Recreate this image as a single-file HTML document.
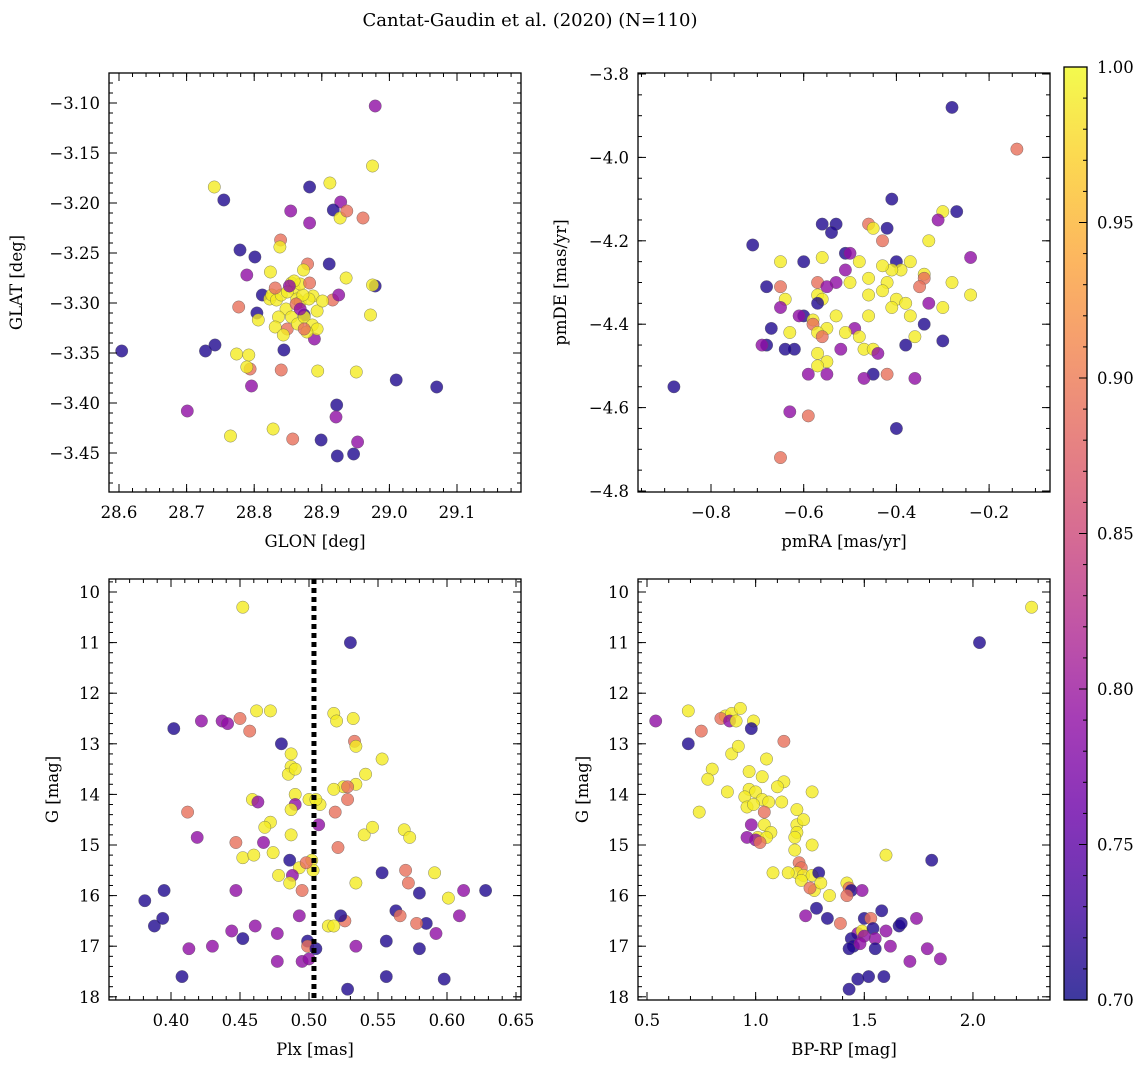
<!DOCTYPE html>
<html><head><meta charset="utf-8">
<style>
html,body{margin:0;padding:0;background:#fff;}
svg{display:block;font-family:"DejaVu Serif","Liberation Serif",serif;}
</style></head>
<body>
<svg id="fig" width="1148" height="1067" viewBox="0 0 1148 1067" xmlns="http://www.w3.org/2000/svg">
<text x="530" y="26" text-anchor="middle" font-size="18">Cantat-Gaudin et al. (2020) (N=110)</text>
</svg>
<script>
// ---------- Panel 1: GLON vs GLAT ----------
const glon = [28.979,28.741,28.755,28.912,28.975,28.882,28.928,28.917,28.854,28.927,28.882,28.937,28.961,28.779,28.801,28.789,28.839,28.838,28.911,28.879,28.873,28.824,28.936,28.979,28.975,28.777,28.916,28.925,28.728,28.742,28.604,28.774,28.792,28.794,28.789,28.804,28.806,28.812,28.823,28.796,28.844,28.840,28.701,28.765,28.828,28.857,28.899,28.922,28.921,28.951,29.010,29.070,28.923,28.947,28.953,28.894,28.972,28.874,28.849,28.889,
28.826,28.833,28.840,28.855,28.859,28.863,28.868,28.847,28.855,28.864,28.874,28.886,28.893,28.887,28.881,28.872,28.868,28.859,28.836,28.831,28.893,28.901,28.849,28.878,28.843,28.862,28.874,28.882,28.831,28.852,28.868];
const glat = [-3.103,-3.184,-3.197,-3.180,-3.163,-3.184,-3.199,-3.207,-3.208,-3.215,-3.220,-3.208,-3.215,-3.247,-3.254,-3.272,-3.237,-3.244,-3.261,-3.261,-3.267,-3.269,-3.275,-3.283,-3.282,-3.304,-3.297,-3.292,-3.348,-3.342,-3.348,-3.351,-3.352,-3.366,-3.364,-3.310,-3.317,-3.292,-3.296,-3.383,-3.347,-3.367,-3.408,-3.433,-3.426,-3.436,-3.437,-3.402,-3.414,-3.369,-3.377,-3.384,-3.453,-3.451,-3.439,-3.368,-3.312,-3.312,-3.326,-3.336,
-3.292,-3.297,-3.292,-3.280,-3.286,-3.296,-3.299,-3.306,-3.314,-3.321,-3.314,-3.322,-3.308,-3.293,-3.296,-3.292,-3.281,-3.278,-3.314,-3.324,-3.326,-3.298,-3.289,-3.329,-3.332,-3.301,-3.326,-3.280,-3.285,-3.283,-3.306];
const prob1 = [0.79,0.99,0.71,0.99,0.99,0.71,0.79,0.71,0.79,0.99,0.79,0.89,0.89,0.71,0.71,0.79,0.89,0.99,0.71,0.89,0.99,0.99,0.99,0.71,0.99,0.89,0.89,0.79,0.71,0.71,0.71,0.99,0.99,0.89,0.99,0.71,0.99,0.71,0.99,0.79,0.71,0.89,0.79,0.99,0.99,0.89,0.71,0.71,0.79,0.99,0.71,0.71,0.71,0.71,0.79,0.99,0.99,0.71,0.89,0.79,
0.99,0.99,0.99,0.99,0.99,0.99,0.99,0.99,0.99,0.99,0.99,0.99,0.99,0.99,0.99,0.99,0.99,0.99,0.99,0.99,0.99,0.99,0.99,0.99,0.99,0.89,0.89,0.89,0.89,0.79,0.79];

// ---------- Panel 2: pmRA vs pmDE ----------
const pmra = [-0.88,-0.28,-0.14,-0.41,-0.30,-0.31,-0.27,-0.71,-0.24,-0.56,-0.53,-0.54,-0.46,-0.45,-0.51,-0.50,-0.65,-0.56,-0.60,-0.48,-0.43,-0.42,-0.33,-0.40,-0.37,-0.39,-0.41,-0.51,-0.43,-0.57,-0.53,-0.46,-0.68,-0.65,-0.34,-0.34,-0.28,-0.42,-0.55,-0.64,-0.57,-0.56,-0.50,-0.46,-0.40,-0.38,-0.43,-0.24,-0.35,-0.57,-0.65,-0.30,-0.37,-0.41,-0.33,-0.60,-0.61,-0.58,-0.53,-0.46,-0.58,-0.34,-0.49,-0.55,-0.57,-0.51,-0.67,-0.48,-0.56,-0.52,-0.36,-0.63,-0.62,-0.64,-0.68,-0.69,-0.38,-0.30,-0.57,-0.47,-0.45,-0.44,-0.55,-0.57,-0.45,-0.47,-0.59,-0.55,-0.42,-0.36,-0.63,-0.40,-0.59,-0.65];
const pmde = [-4.55,-3.88,-3.98,-4.10,-4.13,-4.15,-4.13,-4.21,-4.24,-4.16,-4.16,-4.18,-4.16,-4.17,-4.23,-4.23,-4.25,-4.24,-4.25,-4.25,-4.20,-4.17,-4.20,-4.25,-4.25,-4.27,-4.27,-4.27,-4.26,-4.30,-4.30,-4.29,-4.31,-4.31,-4.28,-4.29,-4.30,-4.30,-4.31,-4.34,-4.33,-4.34,-4.30,-4.33,-4.34,-4.35,-4.32,-4.33,-4.31,-4.35,-4.36,-4.36,-4.38,-4.36,-4.35,-4.38,-4.38,-4.39,-4.38,-4.38,-4.40,-4.40,-4.41,-4.41,-4.42,-4.42,-4.41,-4.43,-4.43,-4.46,-4.43,-4.42,-4.46,-4.46,-4.45,-4.45,-4.45,-4.44,-4.47,-4.46,-4.46,-4.47,-4.49,-4.50,-4.52,-4.53,-4.52,-4.52,-4.52,-4.53,-4.61,-4.65,-4.62,-4.72];
const prob2 = [0.71,0.71,0.89,0.71,0.99,0.79,0.71,0.71,0.79,0.71,0.71,0.71,0.89,0.99,0.71,0.79,0.99,0.99,0.71,0.99,0.89,0.71,0.99,0.71,0.99,0.99,0.99,0.79,0.99,0.89,0.79,0.99,0.71,0.89,0.99,0.89,0.99,0.99,0.79,0.99,0.99,0.99,0.99,0.99,0.99,0.99,0.99,0.99,0.89,0.71,0.79,0.99,0.99,0.99,0.79,0.71,0.79,0.99,0.99,0.99,0.89,0.71,0.79,0.99,0.99,0.99,0.71,0.99,0.89,0.79,0.99,0.99,0.71,0.71,0.71,0.79,0.71,0.71,0.99,0.99,0.99,0.79,0.99,0.99,0.71,0.79,0.79,0.79,0.89,0.79,0.79,0.71,0.89,0.89];

// ---------- Panel 3: Plx vs G ----------
const plx = [0.452,0.530,0.462,0.472,0.450,0.422,0.437,0.441,0.457,0.402,0.518,0.520,0.532,0.480,0.533,0.534,0.487,0.487,0.485,0.490,0.553,0.541,0.534,0.525,0.518,0.528,0.490,0.500,0.508,0.505,0.459,0.463,0.490,0.412,0.528,0.519,0.487,0.472,0.468,0.507,0.540,0.546,0.569,0.573,0.419,0.487,0.447,0.467,0.521,0.502,0.452,0.460,0.474,0.486,0.503,0.493,0.498,0.488,0.478,0.553,0.570,0.591,0.486,0.495,0.534,0.572,0.580,0.601,0.612,0.628,0.381,0.395,0.447,0.563,0.566,0.585,0.578,0.388,0.394,0.461,0.444,0.452,0.493,0.514,0.518,0.526,0.523,0.499,0.499,0.505,0.495,0.477,0.500,0.534,0.556,0.592,0.609,0.413,0.430,0.580,0.408,0.556,0.598,0.528,0.477];
const gmag3 = [10.3,11.0,12.35,12.35,12.5,12.55,12.55,12.6,12.75,12.7,12.4,12.55,12.5,13.0,12.95,13.05,13.2,13.45,13.6,13.5,13.3,13.6,13.8,13.85,13.9,13.85,14.0,14.1,14.2,14.1,14.1,14.15,14.2,14.35,14.1,14.35,14.3,14.55,14.65,14.6,14.8,14.65,14.7,14.85,14.85,14.8,14.95,14.95,15.05,15.3,15.25,15.2,15.15,15.3,15.5,15.45,15.35,15.6,15.6,15.55,15.5,15.55,15.75,15.9,15.75,15.75,15.95,16.05,15.9,15.9,16.1,15.9,15.9,16.3,16.4,16.55,16.55,16.6,16.45,16.6,16.7,16.85,16.4,16.6,16.6,16.5,16.4,16.9,17.0,17.05,17.3,17.3,17.25,17.0,16.9,16.75,16.4,17.05,17.0,17.05,17.6,17.6,17.65,17.85,16.75];
const prob3 = [0.99,0.71,0.99,0.99,0.89,0.79,0.79,0.79,0.89,0.71,0.99,0.99,0.99,0.71,0.89,0.99,0.99,0.99,0.99,0.99,0.99,0.99,0.99,0.99,0.99,0.89,0.99,0.99,0.99,0.99,0.99,0.79,0.79,0.89,0.89,0.89,0.99,0.99,0.99,0.79,0.99,0.99,0.99,0.99,0.79,0.99,0.89,0.79,0.89,0.99,0.99,0.99,0.99,0.71,0.99,0.99,0.89,0.79,0.99,0.71,0.89,0.99,0.99,0.89,0.99,0.89,0.71,0.99,0.79,0.71,0.71,0.71,0.79,0.71,0.89,0.71,0.89,0.71,0.71,0.79,0.79,0.71,0.79,0.99,0.99,0.89,0.71,0.71,0.89,0.71,0.79,0.79,0.79,0.79,0.71,0.79,0.79,0.79,0.79,0.71,0.71,0.71,0.71,0.71,0.79];

// ---------- Panel 4: BP-RP vs G ----------
const bprp = [2.27,2.03,0.54,0.69,0.69,0.75,0.86,0.84,0.89,0.93,0.88,0.91,0.99,0.98,1.13,0.89,0.92,0.80,0.78,0.74,1.05,0.97,1.03,0.87,0.97,1.00,0.95,1.13,1.03,1.06,1.10,0.96,0.99,1.26,1.12,1.19,1.19,1.19,1.22,1.18,1.04,0.98,1.04,1.07,1.01,1.05,0.96,1.00,1.02,1.60,1.81,1.26,1.18,1.20,1.21,1.19,1.08,1.15,1.22,1.26,1.29,1.21,1.27,1.25,1.30,1.42,1.43,1.34,1.44,1.49,1.42,1.28,1.23,1.33,1.58,1.50,1.39,1.53,1.47,1.49,1.54,1.66,1.74,1.67,1.60,1.55,1.44,1.50,1.45,1.43,1.62,1.55,1.79,1.71,1.85,1.47,1.52,1.43,1.59,1.48];
const gmag4 = [10.3,11.0,12.55,12.35,13.0,12.75,12.45,12.5,12.4,12.3,12.55,12.55,12.55,12.7,12.95,13.2,13.05,13.5,13.7,14.35,13.3,13.55,13.65,13.95,13.9,13.95,14.05,13.75,14.1,14.15,13.85,14.25,14.2,13.95,14.15,14.3,14.6,14.75,14.5,14.85,14.35,14.6,14.6,14.75,14.85,14.85,14.85,14.9,14.95,15.2,15.3,15.0,15.1,15.35,15.45,15.55,15.55,15.55,15.6,15.6,15.55,15.7,15.9,15.85,15.75,15.75,15.85,16.0,15.9,15.9,16.0,16.25,16.4,16.45,16.3,16.45,16.55,16.45,16.75,16.7,16.65,16.6,16.45,16.55,16.7,16.85,16.85,16.8,17.0,17.05,17.0,17.05,17.05,17.3,17.25,17.65,17.6,17.85,17.6,16.95];
const prob4 = [0.99,0.71,0.79,0.99,0.71,0.89,0.99,0.89,0.99,0.99,0.79,0.99,0.99,0.71,0.89,0.99,0.99,0.99,0.99,0.99,0.99,0.99,0.99,0.99,0.99,0.99,0.99,0.99,0.99,0.99,0.99,0.99,0.99,0.99,0.99,0.99,0.99,0.99,0.99,0.99,0.89,0.79,0.99,0.99,0.99,0.99,0.79,0.79,0.89,0.99,0.71,0.99,0.99,0.89,0.89,0.99,0.99,0.99,0.99,0.99,0.71,0.99,0.99,0.89,0.99,0.99,0.89,0.99,0.71,0.79,0.89,0.71,0.79,0.71,0.71,0.71,0.89,0.89,0.79,0.99,0.71,0.71,0.79,0.71,0.79,0.79,0.71,0.79,0.71,0.71,0.79,0.71,0.79,0.79,0.79,0.71,0.71,0.71,0.71,0.79];

const plxMedian = 0.5036;
const cbTicks = [0.70,0.75,0.80,0.85,0.90,0.95,1.00];

const NS = "http://www.w3.org/2000/svg";
const svg = document.getElementById('fig');
const plasma = ["#0d0887","#41049d","#6a00a8","#8f0da4","#b12a90","#cc4778","#e16462","#f2844b","#fca636","#fcce25","#f0f921"];
function hex2rgb(h){return [parseInt(h.substr(1,2),16),parseInt(h.substr(3,2),16),parseInt(h.substr(5,2),16)];}
function cmap(p){
  let t=(p-0.7)/0.3; t=Math.max(0,Math.min(1,t));
  const f=t*10, i=Math.min(9,Math.floor(f)), r=f-i;
  const a=hex2rgb(plasma[i]), b=hex2rgb(plasma[i+1]);
  return 'rgb('+a.map((v,k)=>Math.round(v+(b[k]-v)*r)).join(',')+')';
}
function mk(tag, attrs, parent){
  const e=document.createElementNS(NS,tag);
  for(const k in attrs) e.setAttribute(k,attrs[k]);
  (parent||svg).appendChild(e); return e;
}
function fmt(v,d){ const s=Math.abs(v).toFixed(d); return (v<-1e-9?'\u2212':'')+s; }
function range(a,b,s){ const out=[]; const n=Math.round((b-a)/s); for(let i=0;i<=n;i++) out.push(a+i*s); return out; }

function panel(cfg, xs, ys, ps){
  const g=mk('g',{});
  
  
  const X=v=>cfg.x0px+(v-cfg.x0)*cfg.xk;
  const Y=v=>cfg.y0px+(v-cfg.y0)*cfg.yk;
  const pg=mk('g',{},g);
  
  
  for(let i=0;i<xs.length;i++){
    const c=mk('circle',{cx:X(xs[i]).toFixed(1),cy:Y(ys[i]).toFixed(1),r:6.2,fill:cmap(ps[i]),'fill-opacity':0.8,stroke:'#555','stroke-width':0.5,'stroke-opacity':0.7},pg);
    
    
  }
  if(cfg.vline!==undefined){
    const l=mk('line',{x1:X(cfg.vline),x2:X(cfg.vline),y1:cfg.top,y2:cfg.bot,stroke:'#000','stroke-width':5,'stroke-dasharray':'5,4'},g);
    
    
  }
  const fr=mk('rect',{x:cfg.left,y:cfg.top,width:cfg.right-cfg.left,height:cfg.bot-cfg.top,fill:'none',stroke:'#000','stroke-width':1.3},g);
  
  
  const tg=mk('g',{stroke:'#000','stroke-width':1},g);
  
  
  const inX=p=>p>=cfg.left-0.5&&p<=cfg.right+0.5, inY=p=>p>=cfg.top-0.5&&p<=cfg.bot+0.5;
  cfg.xminor.forEach(v=>{const p=X(v); if(!inX(p))return;
    mk('line',{x1:p,x2:p,y1:cfg.bot,y2:cfg.bot-4},tg); mk('line',{x1:p,x2:p,y1:cfg.top,y2:cfg.top+4},tg);});
  cfg.yminor.forEach(v=>{const p=Y(v); if(!inY(p))return;
    mk('line',{x1:cfg.left,x2:cfg.left+4,y1:p,y2:p},tg); mk('line',{x1:cfg.right,x2:cfg.right-4,y1:p,y2:p},tg);});
  cfg.xmajor.forEach(v=>{const p=X(v);
    mk('line',{x1:p,x2:p,y1:cfg.bot,y2:cfg.bot-8},tg); mk('line',{x1:p,x2:p,y1:cfg.top,y2:cfg.top+8},tg);
    const t=mk('text',{x:p,y:cfg.bot+26,'text-anchor':'middle','font-size':16.5,fill:'#000',stroke:'none'},g);
    t.textContent=fmt(v,cfg.xd);
    
    
  });
  cfg.ymajor.forEach(v=>{const p=Y(v);
    mk('line',{x1:cfg.left,x2:cfg.left+8,y1:p,y2:p},tg); mk('line',{x1:cfg.right,x2:cfg.right-8,y1:p,y2:p},tg);
    const t=mk('text',{x:cfg.left-9,y:p+6,'text-anchor':'end','font-size':16.5,fill:'#000'},g);
    t.textContent=fmt(v,cfg.yd);
    
    
  });
  const xl=mk('text',{x:(cfg.left+cfg.right)/2,y:cfg.bot+55,'text-anchor':'middle','font-size':16.5},g);
  xl.textContent=cfg.xlabel;
  
  
  const yl=mk('text',{x:0,y:0,'text-anchor':'middle','font-size':16.5,transform:'translate('+cfg.ylx+','+((cfg.top+cfg.bot)/2)+') rotate(-90)'},g);
  yl.textContent=cfg.ylabel;
  
  
}

panel({name:'glon-glat-panel',left:109,right:521,top:73,bot:492,
  x0:28.6,x0px:119,xk:676,y0:-3.10,y0px:103,yk:-1000,
  xmajor:range(28.6,29.1,0.1),xminor:range(28.58,29.2,0.02),xd:1,
  ymajor:range(-3.45,-3.10,0.05),yminor:range(-3.49,-3.07,0.01),yd:2,
  xlabel:'GLON [deg]',ylabel:'GLAT [deg]',ylx:22}, glon, glat, prob1);

panel({name:'pm-panel',left:638,right:1050,top:73,bot:492,
  x0:-0.8,x0px:711,xk:463.5,y0:-3.8,y0px:74,yk:-417,
  xmajor:range(-0.8,-0.2,0.2),xminor:range(-0.95,-0.05,0.05),xd:1,
  ymajor:range(-4.8,-3.8,0.2),yminor:range(-4.8,-3.8,0.05),yd:1,
  xlabel:'pmRA [mas/yr]',ylabel:'pmDE [mas/yr]',ylx:566}, pmra, pmde, prob2);

panel({name:'plx-g-panel',left:109,right:521,top:579,bot:1000,
  x0:0.40,x0px:171,xk:1380,y0:10,y0px:592,yk:50.6,
  xmajor:range(0.40,0.65,0.05),xminor:range(0.36,0.66,0.01),xd:2,
  ymajor:range(10,18,1),yminor:range(9.8,18.2,0.2),yd:0,
  xlabel:'Plx [mas]',ylabel:'G [mag]',ylx:58,vline:plxMedian}, plx, gmag3, prob3);

panel({name:'cmd-panel',left:638,right:1050,top:579,bot:1000,
  x0:0.5,x0px:647,xk:217.3,y0:10,y0px:592,yk:50.6,
  xmajor:range(0.5,2.0,0.5),xminor:range(0.5,2.3,0.1),xd:1,
  ymajor:range(10,18,1),yminor:range(9.8,18.2,0.2),yd:0,
  xlabel:'BP-RP [mag]',ylabel:'G [mag]',ylx:588}, bprp, gmag4, prob4);

const cb=mk('g',{});


const defs=mk('defs',{},cb);
const grad=mk('linearGradient',{id:'cbg',x1:0,y1:1,x2:0,y2:0},defs);
plasma.forEach((c,i)=>mk('stop',{offset:(i/10),'stop-color':c,'stop-opacity':0.8},grad));
const CB_TOP=67, CB_BOT=1000, CB_L=1064, CB_R=1087;
const cY=v=>CB_BOT-(v-0.7)/0.3*(CB_BOT-CB_TOP);
mk('rect',{x:CB_L,y:CB_TOP,width:CB_R-CB_L,height:CB_BOT-CB_TOP,fill:'url(#cbg)',stroke:'#000','stroke-width':1.3},cb);
range(0.70,1.00,0.01).forEach(v=>{const p=cY(v); mk('line',{x1:CB_R,x2:CB_R-4,y1:p,y2:p,stroke:'#000','stroke-width':1},cb);});
cbTicks.forEach(v=>{const p=cY(v);
  mk('line',{x1:CB_R,x2:CB_R-8,y1:p,y2:p,stroke:'#000','stroke-width':1},cb);
  const t=mk('text',{x:CB_R+10,y:p+6,'font-size':16.5},cb);
  t.textContent=v.toFixed(2);
  
  
});
</script>
</body></html>
